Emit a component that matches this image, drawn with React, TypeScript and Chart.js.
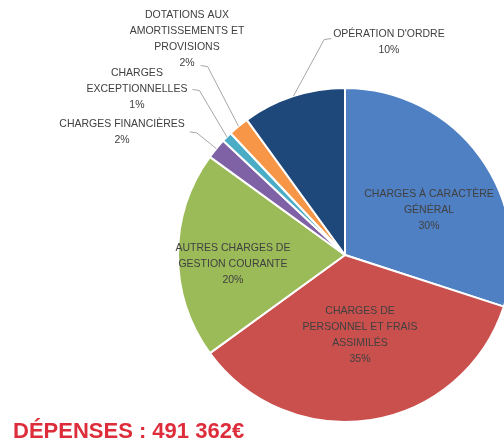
import React, { useEffect, useRef } from 'react';
import { Chart, registerables } from 'chart.js';

Chart.register(...registerables);

// ---- data ----
const categories: string[][] = [
  ['CHARGES À CARACTÈRE', 'GÉNÉRAL'],
  ['CHARGES DE', 'PERSONNEL ET FRAIS', 'ASSIMILÉS'],
  ['AUTRES CHARGES DE', 'GESTION COURANTE'],
  ['CHARGES FINANCIÈRES'],
  ['CHARGES', 'EXCEPTIONNELLES'],
  ['DOTATIONS AUX', 'AMORTISSEMENTS ET', 'PROVISIONS'],
  ["OPÉRATION D'ORDRE"],
];
const shares: number[] = [30, 35, 20, 2, 1, 2, 10];
const sliceColors: string[] = ['#4F80C3', '#C9504D', '#9BBB59', '#7F62A5', '#4BACC6', '#F79646', '#1F487A'];
const titleText = 'DÉPENSES : 491 362€';

// ---- label placement (relative to pie centre, in radius units) ----
type Place = { dx: number; dy: number; leader?: 'right' | 'left' | 'lastRight' };
const labelPlacement: Place[] = [
  { dx: 0.503, dy: -0.266 },
  { dx: 0.09, dy: 0.479 },
  { dx: -0.671, dy: 0.052 },
  { dx: -1.335, dy: -0.737, leader: 'right' },
  { dx: -1.246, dy: -0.991, leader: 'right' },
  { dx: -0.946, dy: -1.29, leader: 'lastRight' },
  { dx: 0.263, dy: -1.272, leader: 'left' },
];
const LABEL_FONT = '10.5px "Liberation Sans", Arial, sans-serif';
const LABEL_COLOR = '#404040';
const LINE_H = 16;

const labelPlugin = {
  id: 'sliceLabels',
  afterDatasetsDraw(chart: any) {
    const ctx: CanvasRenderingContext2D = chart.ctx;
    const meta = chart.getDatasetMeta(0);
    const data: number[] = chart.data.datasets[0].data;
    const total = data.reduce((a, b) => a + b, 0);
    ctx.save();
    ctx.font = LABEL_FONT;
    ctx.fillStyle = LABEL_COLOR;
    ctx.textAlign = 'center';
    ctx.textBaseline = 'middle';
    meta.data.forEach((arc: any, i: number) => {
      const p = arc.getProps(['x', 'y', 'outerRadius', 'startAngle', 'endAngle'], true);
      const R = p.outerRadius;
      const place = labelPlacement[i];
      const lines = [...categories[i], Math.round((data[i] / total) * 100) + '%'];
      const cx = p.x + place.dx * R;
      const cy = p.y + place.dy * R;
      const y0 = cy - ((lines.length - 1) * LINE_H) / 2;
      let maxW = 0;
      lines.forEach((ln, k) => {
        maxW = Math.max(maxW, ctx.measureText(ln).width);
        ctx.fillText(ln, cx, y0 + k * LINE_H);
      });
      if (place.leader) {
        const mid = (p.startAngle + p.endAngle) / 2;
        const ex = p.x + Math.cos(mid) * R;
        const ey = p.y + Math.sin(mid) * R;
        let sx: number, sy: number;
        if (place.leader === 'right') {
          sx = cx + maxW / 2 + 5;
          sy = cy;
        } else if (place.leader === 'left') {
          sx = cx - maxW / 2 - 2;
          sy = cy - 4;
        } else {
          const lw = ctx.measureText(lines[lines.length - 1]).width;
          sx = cx + lw / 2 + 6;
          sy = y0 + (lines.length - 1) * LINE_H + 2;
        }
        const dir = ex > sx ? 1 : -1;
        ctx.beginPath();
        ctx.strokeStyle = '#A6A6A6';
        ctx.lineWidth = 1;
        ctx.moveTo(sx, sy);
        ctx.lineTo(sx + dir * 7, sy + 1);
        ctx.lineTo(ex, ey);
        ctx.stroke();
      }
    });
    // heading
    ctx.font = 'bold 22px "Liberation Sans", Arial, sans-serif';
    ctx.fillStyle = '#DD2C3A';
    ctx.textAlign = 'left';
    ctx.textBaseline = 'alphabetic';
    ctx.fillText(titleText, 13, 438);
    ctx.restore();
  },
};

export default function App() {
  const ref = useRef<HTMLCanvasElement>(null);
  useEffect(() => {
    if (!ref.current) return;
    const chart = new Chart(ref.current, {
      type: 'pie',
      data: {
        labels: categories,
        datasets: [
          {
            data: shares,
            backgroundColor: sliceColors,
            borderColor: '#ffffff',
            borderWidth: 2,
          },
        ],
      },
      options: {
        responsive: false,
        animation: false,
        layout: { padding: { left: 177, right: 7, top: 87, bottom: 21 } },
        plugins: {
          legend: { display: false },
          tooltip: { enabled: false },
          title: { display: false },
        },
      },
      plugins: [labelPlugin],
    });
    return () => chart.destroy();
  }, []);
  return (
    <div
      style={{
        position: 'fixed',
        left: 0,
        top: 0,
        width: 504,
        height: 444,
        overflow: 'hidden',
        background: '#ffffff',
      }}
    >
      <canvas ref={ref} width={520} height={444} style={{ display: 'block' }} />
    </div>
  );
}
